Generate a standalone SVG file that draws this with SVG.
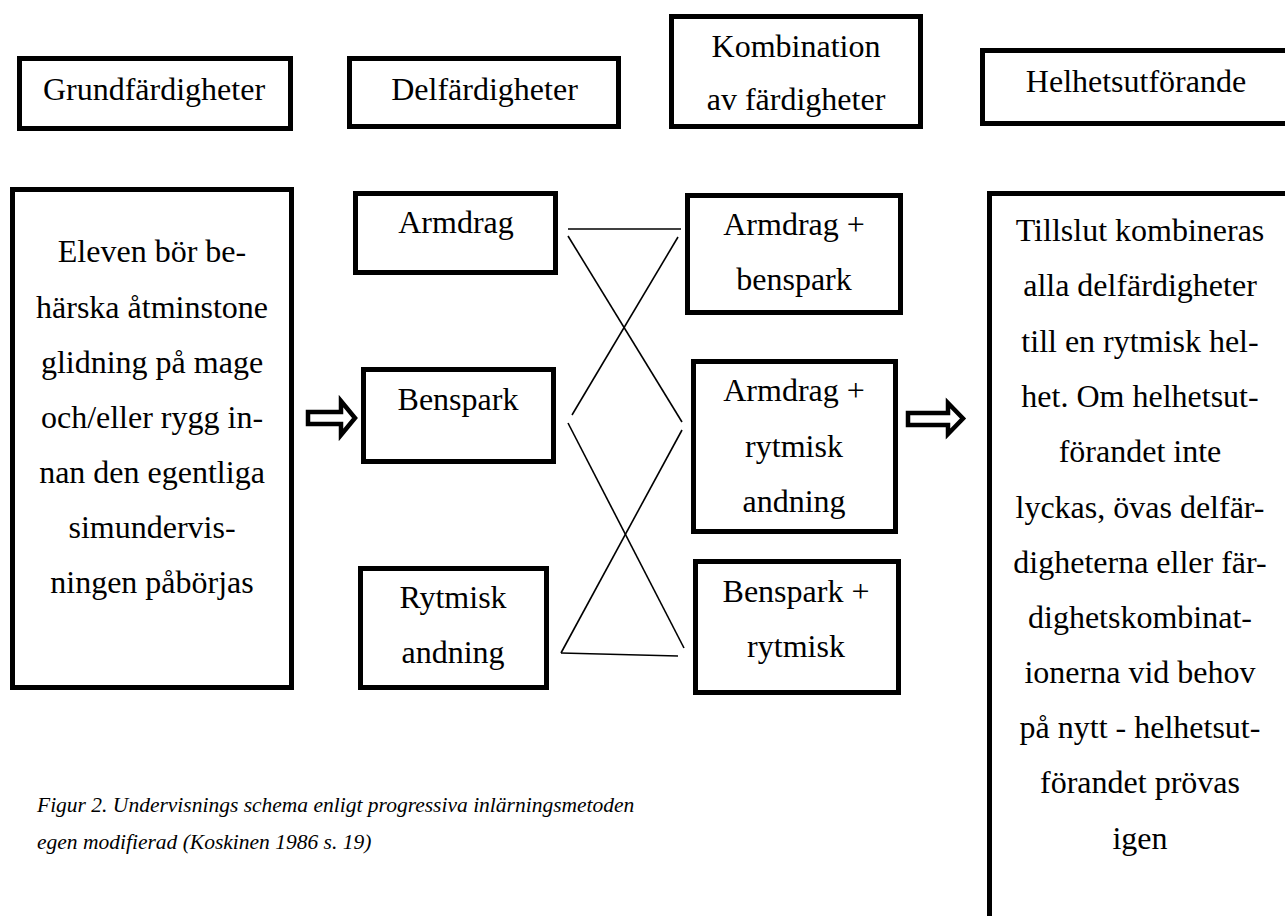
<svg xmlns="http://www.w3.org/2000/svg" width="1285" height="916" viewBox="0 0 1285 916">
<style>
.box{fill:#fff;stroke:#000;stroke-width:5}
.t{font-family:'Liberation Serif','DejaVu Serif',serif;font-size:32px;fill:#000;text-anchor:middle}
.cap{font-family:'Liberation Serif','DejaVu Serif',serif;font-size:21.5px;font-style:italic;fill:#000}
.ln{stroke:#000;stroke-width:1.6;fill:none}
.arr{fill:#fff;stroke:#000;stroke-width:4.5;stroke-linejoin:miter}
</style>
<rect width="1285" height="916" fill="#fff"/>
<g id="h-grund"><rect class="box" x="19.5" y="58.5" width="271" height="70"/><text class="t" x="154" y="100">Grundfärdigheter</text></g>
<g id="h-delf"><rect class="box" x="349.5" y="58.5" width="269" height="68"/><text class="t" x="484.5" y="100">Delfärdigheter</text></g>
<g id="h-komb"><rect class="box" x="671.5" y="16.5" width="249" height="110"/><text class="t" x="796" y="57">Kombination</text><text class="t" x="796" y="110">av färdigheter</text></g>
<g id="h-helhet"><rect class="box" x="982.5" y="50.5" width="320" height="73"/><text class="t" x="1136" y="92">Helhetsutförande</text></g>
<g id="n-grund"><rect class="box" x="12.5" y="189.5" width="279" height="498"/>
<text class="t" x="152" y="262">Eleven bör be-</text>
<text class="t" x="152" y="318">härska åtminstone</text>
<text class="t" x="152" y="373">glidning på mage</text>
<text class="t" x="152" y="428">och/eller rygg in-</text>
<text class="t" x="152" y="483">nan den egentliga</text>
<text class="t" x="152" y="538">simundervis-</text>
<text class="t" x="152" y="593">ningen påbörjas</text></g>
<g id="n-armdrag"><rect class="box" x="355.5" y="193.5" width="200" height="79"/><text class="t" x="456" y="233">Armdrag</text></g>
<g id="n-benspark"><rect class="box" x="363.5" y="369.5" width="190" height="92"/><text class="t" x="458" y="410">Benspark</text></g>
<g id="n-rytmisk"><rect class="box" x="360.5" y="568.5" width="186" height="119"/><text class="t" x="453" y="608">Rytmisk</text><text class="t" x="453" y="663">andning</text></g>
<g id="n-ab"><rect class="box" x="687.5" y="195.5" width="213" height="117"/><text class="t" x="794" y="235">Armdrag +</text><text class="t" x="794" y="290">benspark</text></g>
<g id="n-ar"><rect class="box" x="693.5" y="361.5" width="202" height="170"/><text class="t" x="794" y="401">Armdrag +</text><text class="t" x="794" y="457">rytmisk</text><text class="t" x="794" y="512">andning</text></g>
<g id="n-br"><rect class="box" x="695.5" y="561.5" width="203" height="131"/><text class="t" x="796" y="602">Benspark +</text><text class="t" x="796" y="657">rytmisk</text></g>
<g id="n-helhet"><rect class="box" x="989.5" y="193.5" width="320" height="760"/>
<text class="t" x="1140" y="241">Tillslut kombineras</text>
<text class="t" x="1140" y="296">alla delfärdigheter</text>
<text class="t" x="1140" y="351.5">till en rytmisk hel-</text>
<text class="t" x="1140" y="407">het. Om helhetsut-</text>
<text class="t" x="1140" y="462">förandet inte</text>
<text class="t" x="1140" y="517.5">lyckas, övas delfär-</text>
<text class="t" x="1140" y="572.5">digheterna eller fär-</text>
<text class="t" x="1140" y="628">dighetskombinat-</text>
<text class="t" x="1140" y="683">ionerna vid behov</text>
<text class="t" x="1140" y="738">på nytt - helhetsut-</text>
<text class="t" x="1140" y="793">förandet prövas</text>
<text class="t" x="1140" y="848.5">igen</text></g>
<g id="connectors">
<line class="ln" x1="568" y1="229" x2="681" y2="229"/>
<line class="ln" x1="568" y1="236" x2="682" y2="422"/>
<line class="ln" x1="572" y1="415" x2="678" y2="237"/>
<line class="ln" x1="568" y1="423" x2="684" y2="648"/>
<line class="ln" x1="561" y1="653" x2="682" y2="430"/>
<line class="ln" x1="561" y1="653" x2="678" y2="656"/>
<path class="arr" d="M308,412 L341,412 L341,401 L355,418 L341,435 L341,424 L308,424 Z"/>
<path class="arr" d="M908,413 L948,413 L948,403 L963,418.5 L948,434 L948,425 L908,425 Z"/>
</g>
<g id="caption">
<text class="cap" x="37" y="812">Figur 2. Undervisnings schema enligt progressiva inlärningsmetoden</text>
<text class="cap" x="37" y="849">egen modifierad (Koskinen 1986 s. 19)</text>
</g>
</svg>
